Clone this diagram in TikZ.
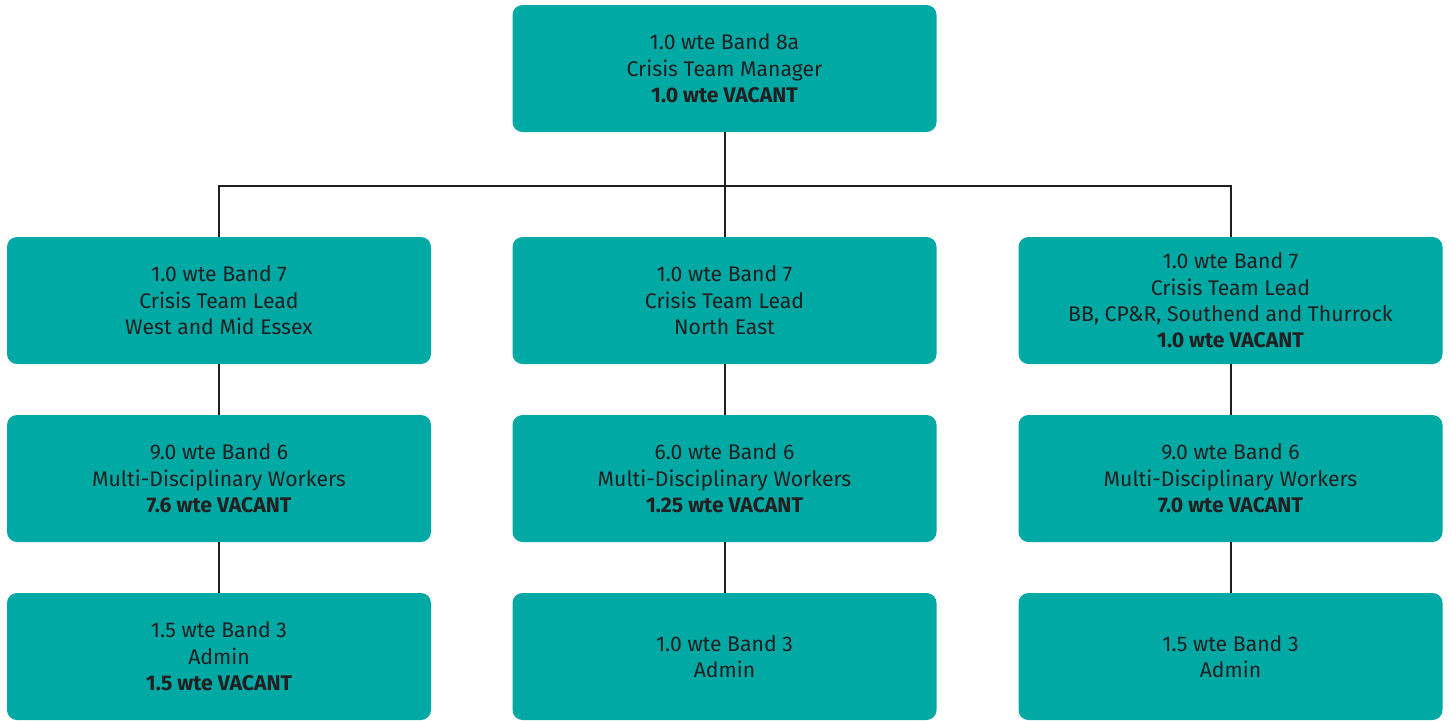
\documentclass[tikz,border=0pt]{standalone}
\usepackage{fontspec}
\setmainfont{Fira Sans}
\usepackage{tikz}
\usetikzlibrary{positioning, calc}
\definecolor{crisisTeal}{RGB}{0, 169, 164}
\definecolor{inkDark}{RGB}{35, 31, 32}
\tikzset{
  rolebox/.style={
    rectangle, rounded corners=5pt,
    draw=none, fill=crisisTeal,
    minimum width=212pt, minimum height=63.5pt,
    align=center, text=inkDark,
    font=\fontsize{10.6pt}{13.2pt}\selectfont
  },
  link/.style={
    draw=inkDark, line width=1pt
  }
}
\newcommand{\vac}[1]{\textbf{#1}}

\begin{document}
\begin{tikzpicture}[x=0.5pt, y=-0.5pt]

  % ── Canvas ────────────────────────────────────────────────────────────────
  \useasboundingbox (0,0) rectangle (1451,720);

  % ── Manager ───────────────────────────────────────────────────────────────
  \node[rolebox] (mgr) at (724.5,68.5)
    {1.0 wte Band 8a\\Crisis Team Manager\\\vac{1.0 wte VACANT}};

  % ── Team leads ────────────────────────────────────────────────────────────
  \node[rolebox] (leadW) at (219,300.5)
    {1.0 wte Band 7\\Crisis Team Lead\\West and Mid Essex};
  \node[rolebox] (leadN) at (724.5,300.5)
    {1.0 wte Band 7\\Crisis Team Lead\\North East};
  \node[rolebox] (leadE) at (1230.5,300.5)
    {1.0 wte Band 7\\Crisis Team Lead\\BB, CP\&R, Southend and Thurrock\\\vac{1.0 wte VACANT}};

  % ── Band 6 workers ────────────────────────────────────────────────────────
  \node[rolebox] (mdtW) at (219,478.5)
    {9.0 wte Band 6\\Multi-Disciplinary Workers\\\vac{7.6 wte VACANT}};
  \node[rolebox] (mdtN) at (724.5,478.5)
    {6.0 wte Band 6\\Multi-Disciplinary Workers\\\vac{1.25 wte VACANT}};
  \node[rolebox] (mdtE) at (1230.5,478.5)
    {9.0 wte Band 6\\Multi-Disciplinary Workers\\\vac{7.0 wte VACANT}};

  % ── Admin ─────────────────────────────────────────────────────────────────
  \node[rolebox] (admW) at (219,656.5)
    {1.5 wte Band 3\\Admin\\\vac{1.5 wte VACANT}};
  \node[rolebox] (admN) at (724.5,656.5)
    {1.0 wte Band 3\\Admin};
  \node[rolebox] (admE) at (1230.5,656.5)
    {1.5 wte Band 3\\Admin};

  % ── Connectors ────────────────────────────────────────────────────────────
  \coordinate (bus) at (0,186);
  \draw[link] (mgr.south) -- (leadN.north);
  \draw[link] (leadW.north) -- (leadW.north |- bus) -- (leadE.north |- bus) -- (leadE.north);
  \foreach \c in {W,N,E}{
    \draw[link] (lead\c.south) -- (mdt\c.north);
    \draw[link] (mdt\c.south) -- (adm\c.north);
  }

\end{tikzpicture}
\end{document}
